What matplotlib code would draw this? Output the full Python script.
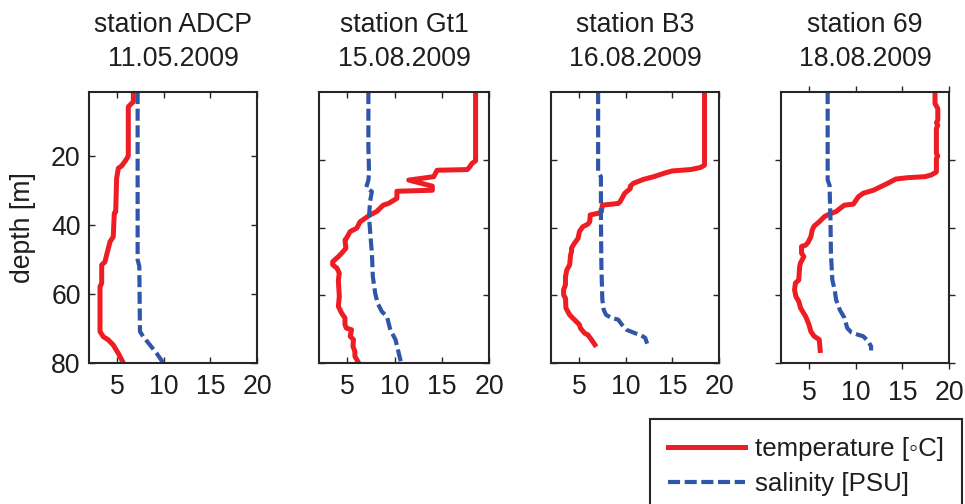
import matplotlib
matplotlib.use("Agg")
import matplotlib.pyplot as plt

plt.rcParams['font.family'] = ['Liberation Sans', 'DejaVu Sans']

titles = ["station ADCP\n11.05.2009", "station Gt1\n15.08.2009",
          "station B3\n16.08.2009", "station 69\n18.08.2009"]

# ADCP
adcp_temp_x = [6.75, 6.75, 6.21, 6.21, 5.96, 5.5, 5.14, 4.96, 4.86, 4.71, 4.6, 4.25, 3.89, 3.71,
               3.36, 3.36, 3.18, 3.18, 3.54, 4.07, 4.6, 5.14, 5.68]
adcp_temp_d = [1.5, 4.3, 5.8, 20.0, 21.2, 22.9, 23.6, 26.5, 36.2, 36.6, 43.4, 44.9, 48.7, 50.7,
               51.6, 56.9, 57.9, 70.9, 72.4, 73.3, 74.8, 77.2, 80.0]
adcp_sal_x = [7.21, 7.21, 7.39, 7.46, 7.82, 8.54, 9.25, 9.96]
adcp_sal_d = [1.5, 50.1, 52.0, 70.9, 72.4, 74.8, 77.2, 80.0]

# Gt1
gt1_temp_x = [18.58, 18.58, 18.2, 17.9, 17.7, 14.5, 14.15, 11.5, 14.0, 14.0, 10.25, 10.25, 9.35,
              8.8, 8.1, 7.4, 6.35, 6.0, 5.3, 4.9, 4.75, 4.85, 4.4, 4.05, 3.45, 3.45, 3.9, 4.15,
              4.05, 4.15, 4.05, 4.4, 4.75, 4.75, 4.9, 5.45, 5.3, 5.65, 5.6, 5.8, 5.8, 6.2]
gt1_temp_d = [0, 20.3, 21.1, 22.3, 22.9, 23.1, 25.0, 26.0, 27.8, 29.0, 29.3, 31.4, 32.9,
              33.4, 35.3, 36.3, 38.3, 40.2, 41.2, 43.2, 43.7, 46.1, 47.6, 48.6, 50.1, 51.0, 52.0, 53.5,
              55.5, 60.4, 63.3, 65.3, 66.7, 68.7, 69.7, 70.2, 72.1, 73.1, 75.1, 76.6, 78.0, 80.0]
gt1_sal_x = [7.23, 7.23, 7.3, 7.23, 7.0, 7.6, 7.4, 7.3, 7.4, 7.6, 7.7, 7.95, 8.2, 8.65, 9.2,
             9.55, 10.1, 10.4, 10.7]
gt1_sal_d = [0, 16.2, 24.0, 26.0, 28.2, 29.4, 32.4, 36.8, 40.7, 47.6, 54.5, 59.4, 62.3, 64.8, 66.3,
             70.2, 73.1, 76.6, 80.0]

# B3
b3_temp_x = [18.45, 18.45, 18.0, 16.95, 15.0, 14.1, 13.0, 11.9, 10.8, 10.5, 10.5, 9.9, 9.4, 9.2,
             7.5, 7.4, 7.05, 6.2, 6.15, 5.95, 5.4, 5.05, 4.9, 4.5, 4.2, 4.2, 4.1, 4.0, 3.7, 3.55,
             3.55, 3.35, 3.35, 3.55, 3.6, 4.0, 4.5, 5.05, 5.15, 5.6, 5.95, 6.2, 6.7]
b3_temp_d = [0, 21.6, 22.3, 22.9, 23.3, 24.0, 25.0, 25.8, 27.0, 27.8, 28.5, 29.9, 32.4, 32.9,
             33.4, 35.3, 35.8, 36.3, 38.3, 39.0, 39.8, 41.2, 43.2, 44.7, 46.1, 47.1, 48.1, 51.0, 52.5, 54.5,
             56.9, 58.4, 59.9, 60.9, 63.8, 65.8, 67.2, 68.7, 69.7, 71.2, 71.7, 72.6, 74.6]
b3_sal_x = [7.05, 7.05, 7.35, 7.35, 7.4, 7.5, 7.65, 7.9, 8.5, 9.2, 9.6, 10.1, 11.0, 11.7, 12.1, 12.3]
b3_sal_d = [0, 23.6, 25.0, 37.8, 51.5, 61.3, 64.3, 65.8, 66.7, 67.2, 68.7, 70.2, 71.2, 71.9, 72.6, 74.3]

# 69
s69_temp_x = [18.5, 18.5, 18.8, 18.8, 18.65, 18.8, 18.65, 18.65, 18.8, 18.65, 18.65, 18.1, 17.4,
              15.55, 14.3, 13.4, 12.65, 11.9, 10.8, 10.3, 10.0, 9.75, 8.8, 8.55, 7.9, 7.2, 6.65, 6.1,
              5.55, 5.35, 5.2, 4.9, 4.65, 4.2, 4.2, 4.45, 4.1, 4.0, 3.9, 3.55, 3.45, 3.6, 3.9, 4.1,
              4.65, 5.0, 5.2, 5.55, 6.1, 6.2]
s69_temp_d = [0, 3.4, 4.9, 8.3, 9.1, 9.8, 10.8, 18.2, 18.9, 19.6, 23.6, 24.5, 25.0,
              25.3, 25.7, 27.0, 28.0, 29.0, 29.9, 30.9, 32.1, 33.1, 33.4, 33.9, 35.3, 36.0, 36.8, 38.3,
              39.6, 40.7, 42.7, 44.4, 45.2, 45.6, 47.6, 48.6, 50.4, 51.5, 55.5, 56.4, 58.4, 60.4, 61.8, 63.8,
              66.3, 68.7, 70.7, 72.1, 73.1, 76.3]
s69_sal_x = [7.0, 7.0, 7.2, 7.3, 7.35, 7.5, 7.75, 7.9, 8.3, 8.8, 9.1, 9.55, 10.3, 10.8, 11.35,
             11.65, 11.65]
s69_sal_d = [0, 26.0, 27.5, 37.8, 47.6, 55.5, 58.4, 61.3, 64.3, 66.7, 69.7, 71.0, 71.7, 72.1, 73.6,
             75.1, 76.3]

temps = [(adcp_temp_x, adcp_temp_d), (gt1_temp_x, gt1_temp_d),
         (b3_temp_x, b3_temp_d), (s69_temp_x, s69_temp_d)]
sals = [(adcp_sal_x, adcp_sal_d), (gt1_sal_x, gt1_sal_d),
        (b3_sal_x, b3_sal_d), (s69_sal_x, s69_sal_d)]
ytops = [1.5, 0, 0, 0]

x_ticks = [5, 10, 15, 20]
y_ticks = [20, 40, 60, 80]

RED = '#EE1D23'
BLUE = '#2F56A8'
FRAME = '#262626'
TXT = '#1e1e1e'
FS = 19.2
LFS = 18.6

W, H = 965, 504
fig = plt.figure(figsize=(W / 100, H / 100), dpi=100)

lefts = [89, 319, 551, 781]
widths = [168, 170, 168, 168]
top, bottom = 92, 363

for i in range(4):
    ax = fig.add_axes([lefts[i] / W, (H - bottom) / H, widths[i] / W, (bottom - top) / H])
    tx, td = temps[i]
    sx, sd = sals[i]
    lt, = ax.plot(tx, td, color=RED, lw=3.6, solid_joinstyle='round', label='temperature [\u25e6C]')
    ls, = ax.plot(sx, sd, color=BLUE, lw=3.0, dashes=(2.9, 1.1), label='salinity [PSU]')
    ax.set_xlim(2, 20)
    ax.set_ylim(80, ytops[i])
    ax.set_xticks(x_ticks)
    ax.set_xticklabels([str(v) for v in x_ticks])
    ax.set_yticks(y_ticks)
    if i == 0:
        ax.set_yticklabels([str(v) for v in y_ticks])
        ax.set_ylabel('depth [m]', fontsize=FS, labelpad=11, color=TXT)
        handles = [lt, ls]
    else:
        ax.set_yticklabels([])
    direction = 'out' if i == 3 else 'in'
    ax.tick_params(direction=direction, length=4, width=1.0, color=FRAME, labelsize=FS,
                   top=True, right=True, labelcolor=TXT)
    ax.tick_params(axis='x', pad=8)
    ax.tick_params(axis='y', pad=6)
    for sp in ax.spines.values():
        sp.set_color(FRAME)
        sp.set_linewidth(1.5)
    ax.set_title(titles[i], fontsize=FS, pad=19, color=TXT, linespacing=1.38)

leg = fig.legend(handles=handles, loc='upper left', bbox_to_anchor=(650 / W, 1 - 419 / H),
                 fontsize=LFS, frameon=True, fancybox=False, framealpha=1,
                 edgecolor=FRAME, handlelength=3.0, handletextpad=0.4,
                 borderpad=0.68, labelspacing=0.45, borderaxespad=0)
leg.get_frame().set_linewidth(1.5)
for t in leg.get_texts():
    t.set_color(TXT)

fig.savefig('out.png', dpi=100)
